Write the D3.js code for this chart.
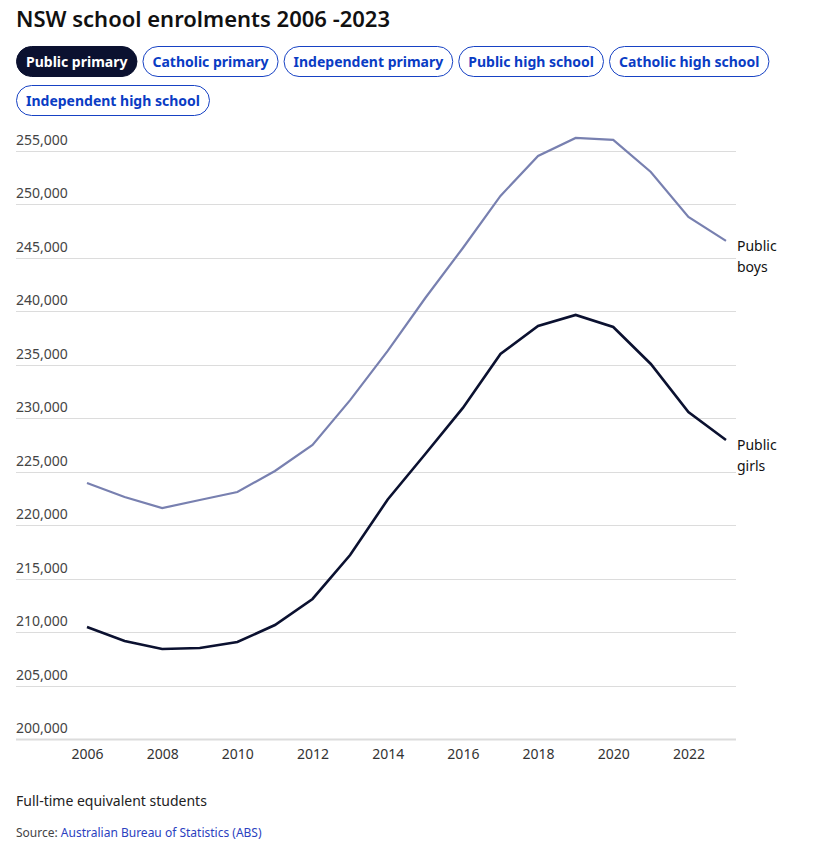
<!DOCTYPE html>
<html><head><meta charset="utf-8">
<script src="https://cdn.jsdelivr.net/npm/d3@7"></script>
<style>
body{margin:0;background:#fff;}
svg{display:block;font-family:"Noto Sans",sans-serif;}
</style></head>
<body><svg id="c" width="838" height="850"></svg>
<script>
const title = "NSW school enrolments 2006 -2023";
const buttons = ["Public primary","Catholic primary","Independent primary","Public high school","Catholic high school","Independent high school"];
const years = [2006,2007,2008,2009,2010,2011,2012,2013,2014,2015,2016,2017,2018,2019,2020,2021,2022,2023];
const boys  = [223950,222640,221600,222360,223100,225070,227500,231700,236300,241250,245930,250800,254540,256220,256040,253040,248830,246590];
const girls = [210480,209170,208420,208510,209070,210660,213100,217210,222400,226660,230970,236020,238640,239670,238540,235080,230590,227970];
const yTicks = [200000,205000,210000,215000,220000,225000,230000,235000,240000,245000,250000,255000];
const xTicks = [2006,2008,2010,2012,2014,2016,2018,2020,2022];
const seriesLabels = [["Public","boys"],["Public","girls"]];

const svg = d3.select("#c");
svg.append("text").attr("x",16).attr("y",27).attr("font-size",22).attr("font-weight",600).attr("fill","#111").text(title);

// buttons
let bx=16, by=46; const bh=31, gap=5, maxX=822;
buttons.forEach((b,i)=>{
  const g=svg.append("g");
  const t=g.append("text").attr("font-size",14).attr("font-weight",700).text(b);
  const w=t.node().getComputedTextLength()+20;
  if(bx+w>maxX){bx=16;by+=39;}
  g.insert("rect","text").attr("x",bx+0.5).attr("y",by+0.5).attr("width",w-1).attr("height",bh-1).attr("rx",15)
    .attr("fill",i===0?"#0b1130":"#fff").attr("stroke",i===0?"#0b1130":"#1742c4").attr("stroke-width",1);
  t.attr("x",bx+w/2).attr("y",by+bh/2+5).attr("text-anchor","middle").attr("fill",i===0?"#fff":"#0a3cc4");
  bx+=w+gap;
});

const x=d3.scaleLinear().domain([2006,2023]).range([87,726]);
const y=d3.scaleLinear().domain([200000,255000]).range([739,151]);

const grid=svg.append("g");
yTicks.forEach(v=>{
  grid.append("line").attr("x1",16).attr("x2",736).attr("y1",Math.round(y(v))+0.5).attr("y2",Math.round(y(v))+0.5).attr("stroke","#dcdcdc").attr("stroke-width",v===200000?2:1);
  grid.append("text").attr("x",16).attr("y",y(v)-6).attr("font-size",14).attr("fill","#444").text(d3.format(",")(v));
});

const xa=svg.append("g").attr("transform","translate(0,739)")
  .call(d3.axisBottom(x).tickValues(xTicks).tickFormat(d3.format("d")).tickSize(0).tickPadding(10));
xa.select(".domain").remove();
xa.selectAll("text").attr("font-size",14).attr("fill","#333").attr("font-family","Noto Sans");

const line=d3.line().x((d,i)=>x(years[i])).y(d=>y(d));
svg.append("path").datum(boys).attr("d",line).attr("fill","none").attr("stroke","#7880b0").attr("stroke-width",2.2);
svg.append("path").datum(girls).attr("d",line).attr("fill","none").attr("stroke","#0b1130").attr("stroke-width",2.6);

[[boys,seriesLabels[0]],[girls,seriesLabels[1]]].forEach(([s,l])=>{
  const yy=y(s[s.length-1]);
  const t=svg.append("text").attr("x",737).attr("y",yy+10).attr("font-size",14).attr("fill","#111");
  t.append("tspan").attr("x",737).text(l[0]);
  t.append("tspan").attr("x",737).attr("dy",21).text(l[1]);
});

svg.append("text").attr("x",16).attr("y",806).attr("font-size",14).attr("fill","#222").text("Full-time equivalent students");
const src=svg.append("text").attr("x",16).attr("y",837).attr("font-size",12).attr("fill","#444");
src.append("tspan").text("Source: ");
src.append("tspan").attr("fill","#2b3fc0").text("Australian Bureau of Statistics (ABS)");
</script></body></html>
